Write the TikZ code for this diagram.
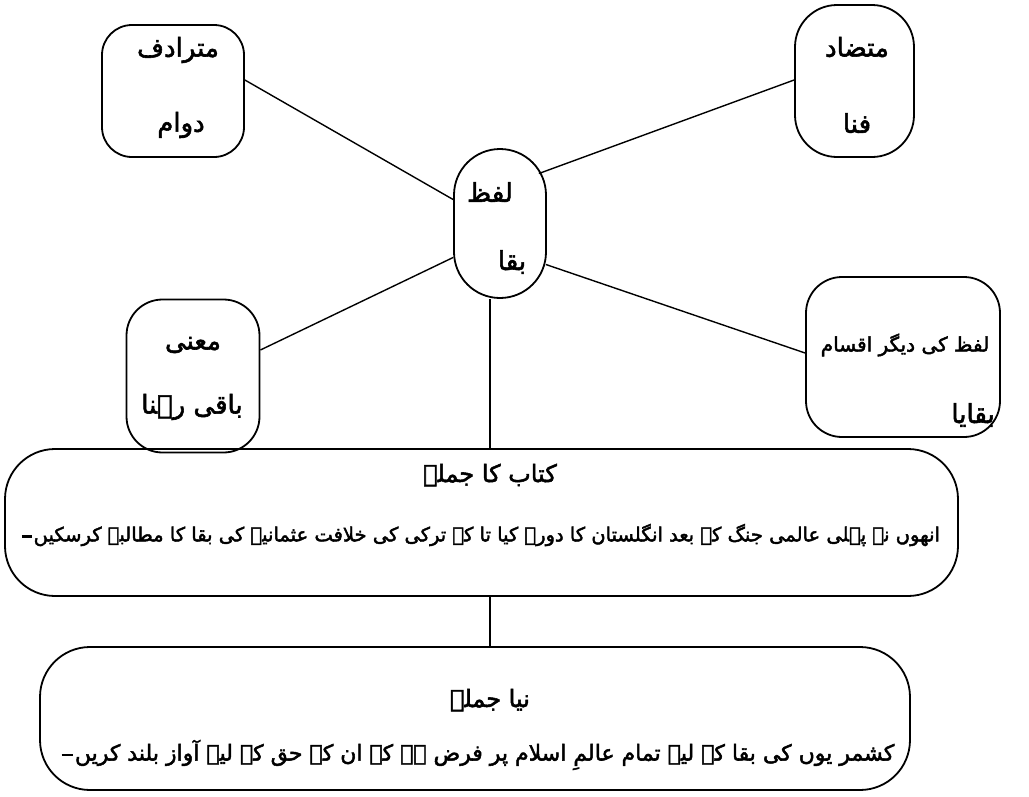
\documentclass[tikz,border=0pt]{standalone}
\usepackage{fontspec}
\TeXXeTstate=1
\newfontfamily\urdu[Script=Arabic,FakeBold=2.2]{DejaVu Sans}
\newcommand\urdustop{\kern0.1em\rule[0.35ex]{0.5em}{0.13em}}
\begin{document}
\begin{tikzpicture}[x=1pt,y=-1pt,
  box/.style={draw,line width=1.8pt,rounded corners=#1,inner sep=0pt},
  lbl/.style={font=\urdu\fontsize{26}{30}\selectfont,inner sep=0pt},
  head/.style={font=\urdu\fontsize{24}{28}\selectfont,inner sep=0pt},
  link/.style={line width=1.4pt}]
\useasboundingbox (0,0) rectangle (1029,796);
% boxes
\node[box=30pt,minimum width=142pt,minimum height=132pt] (syn) at (173,91) {};
\node[box=42pt,minimum width=119pt,minimum height=152pt] (ant) at (854.5,81) {};
\node[box=46pt,minimum width=92pt,minimum height=149pt] (mid) at (500,223.5) {};
\node[box=36pt,minimum width=133pt,minimum height=153pt] (mean) at (193,376) {};
\node[box=36pt,minimum width=194pt,minimum height=160pt] (other) at (903,357) {};
\node[box=50pt,minimum width=953pt,minimum height=147pt] (book) at (481.5,522.5) {};
\node[box=50pt,minimum width=870pt,minimum height=143pt] (new) at (475,718.5) {};
% texts
\node[lbl] (synA) at (178,50) {\beginR مترادف\endR};
\node[lbl] (synB) at (181,125) {\beginR دوام\endR};
\node[lbl] (antA) at (857,47) {\beginR متضاد\endR};
\node[lbl] (antB) at (857,123) {\beginR فنا\endR};
\node[lbl] (midA) at (490,192) {\beginR لفظ\endR};
\node[lbl] (midB) at (512,262) {\beginR بقا\endR};
\node[lbl] (meanA) at (193,345) {\beginR معنی\endR};
\node[lbl] (meanB) at (192,407) {\beginR باقی رہنا\endR};
\node[lbl,font=\urdu\fontsize{20}{24}\selectfont] (otherA) at (905,345) {\beginR لفظ کی دیگر اقسام\endR};
\node[lbl,anchor=east] (otherB) at (995,415) {\beginR بقایا\endR};
\node[head] (bookA) at (490,475) {\beginR کتاب کا جملہ\endR};
\node[head,font=\urdu\fontsize{19.5}{23}\selectfont] (bookB) at (481,535) {\beginR انھوں نے پہلی عالمی جنگ کے بعد انگلستان کا دورہ کیا تا کہ ترکی کی خلافت عثمانیہ کی بقا کا مطالبہ کرسکیں\urdustop\endR};
\node[head] (newA) at (490,700) {\beginR نیا جملہ\endR};
\node[head,font=\urdu\fontsize{22}{26}\selectfont] (newB) at (478,755) {\beginR کشمر یوں کی بقا کے لیے تمام عالمِ اسلام پر فرض ہے کہ ان کے حق کے لیے آواز بلند کریں\urdustop\endR};
% connectors
\draw[link] ([yshift=11pt]syn.east) -- ([yshift=24pt]mid.west);
\draw[link] ([xshift=-8pt,yshift=50pt]mid.east) -- ([yshift=1pt]ant.west);
\draw[link] ([yshift=-34pt]mid.west) -- ([yshift=26pt]mean.east);
\draw[link] ([xshift=-1pt,yshift=-41pt]mid.east) -- ([yshift=4pt]other.west);
\draw[link] ([xshift=-10pt]mid.south) -- ([xshift=-10pt]mid.south |- book.north);
\draw[link] ([xshift=8.5pt]book.south) -- ([xshift=8.5pt]book.south |- new.north);
\end{tikzpicture}
\end{document}
